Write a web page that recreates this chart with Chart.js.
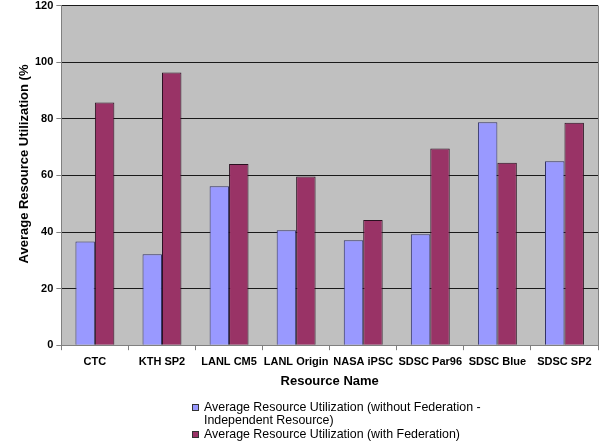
<!DOCTYPE html>
<html>
<head>
<meta charset="utf-8">
<script src="https://cdn.jsdelivr.net/npm/chart.js@4/dist/chart.umd.min.js"></script>
<style>
  html, body { margin: 0; padding: 0; background: #ffffff; overflow: hidden; }
  #wrap { width: 605px; height: 447px; overflow: hidden; }
  #c { display: block; margin-top: -4px; }
</style>
</head>
<body>
<div id="wrap"><canvas id="c" width="605" height="451"></canvas></div>
<script>
// Resource names along the x axis
const categories = ['CTC', 'KTH SP2', 'LANL CM5', 'LANL Origin', 'NASA iPSC', 'SDSC Par96', 'SDSC Blue', 'SDSC SP2'];
// Utilization (%) per resource
const withoutFederation = [36.6, 32.1, 56.2, 40.6, 37.1, 39.2, 78.8, 65.0];
const withFederation = [85.8, 96.4, 64.0, 59.6, 44.2, 69.5, 64.5, 78.6];
// Value axis ticks
const yTicks = [0, 20, 40, 60, 80, 100, 120];

const seriesLabels = [
  'Average Resource Utilization (without Federation - Independent Resource)',
  'Average Resource Utilization (with Federation)'
];
const yTitle = 'Average Resource Utilization (%';

const FONT = "'Liberation Sans', Arial, sans-serif";

// grey plot background and right frame line
const plotBackground = {
  id: 'plotBackground',
  beforeDraw(chart) {
    const { ctx, chartArea: a } = chart;
    ctx.save();
    ctx.fillStyle = '#C0C0C0';
    ctx.fillRect(a.left, a.top, a.right - a.left, a.bottom - a.top);
    ctx.restore();
  },
  afterDatasetsDraw(chart) {
    const { ctx, chartArea: a } = chart;
    ctx.save();
    ctx.strokeStyle = '#808080';
    ctx.lineWidth = 1;
    ctx.beginPath();
    ctx.moveTo(Math.round(a.right) + 0.5, a.top);
    ctx.lineTo(Math.round(a.right) + 0.5, a.bottom);
    ctx.stroke();
    ctx.restore();
  }
};

// vertical value-axis title, set a little above the axis middle
const valueTitle = {
  id: 'valueTitle',
  afterDraw(chart) {
    const { ctx } = chart;
    ctx.save();
    ctx.translate(24, 168);
    ctx.rotate(-Math.PI / 2);
    ctx.font = 'bold 13px ' + FONT;
    ctx.fillStyle = '#000';
    ctx.textAlign = 'center';
    ctx.textBaseline = 'middle';
    ctx.fillText(yTitle, 0, 0);
    ctx.restore();
  }
};

// wrapped legend below the axis title
const wrappedLegend = {
  id: 'wrappedLegend',
  afterDraw(chart) {
    const { ctx } = chart;
    const x0 = 192, textX = 204, maxW = 290, lineH = 13.5;
    let y = 411.5;
    ctx.save();
    ctx.font = '12.4px ' + FONT;
    ctx.textBaseline = 'middle';
    chart.data.datasets.forEach(ds => {
      const words = ds.label.split(' ');
      const lines = [];
      let cur = '';
      words.forEach(w => {
        const t = cur ? cur + ' ' + w : w;
        if (ctx.measureText(t).width > maxW && cur) { lines.push(cur); cur = w; }
        else cur = t;
      });
      if (cur) lines.push(cur);
      ctx.fillStyle = ds.backgroundColor;
      ctx.fillRect(x0, y - 3.5, 7, 7);
      ctx.strokeStyle = '#333';
      ctx.lineWidth = 1;
      ctx.strokeRect(x0 + 0.5, y - 3.5 + 0.5, 6, 6);
      ctx.fillStyle = '#000';
      lines.forEach((ln, i) => ctx.fillText(ln, textX, y + i * lineH));
      y += lines.length * lineH;
    });
    ctx.restore();
  }
};

new Chart(document.getElementById('c'), {
  type: 'bar',
  data: {
    labels: categories,
    datasets: [
      { label: seriesLabels[0], data: withoutFederation, backgroundColor: '#9999FF', borderColor: '#333366', borderWidth: 1 },
      { label: seriesLabels[1], data: withFederation, backgroundColor: '#993366', borderColor: '#2a1020', borderWidth: 1 }
    ]
  },
  options: {
    responsive: false,
    animation: false,
    devicePixelRatio: 1,
    layout: { padding: { left: 32, right: 7, top: 0, bottom: 58 } },
    datasets: { bar: { categoryPercentage: 0.58, barPercentage: 1.0 } },
    plugins: {
      legend: { display: false },
      tooltip: { enabled: false }
    },
    scales: {
      x: {
        grid: { display: true, offset: true, drawOnChartArea: false, drawTicks: true, tickLength: 5, color: '#808080' },
        border: { display: true, color: '#808080' },
        ticks: { color: '#000', font: { family: FONT, size: 11, weight: 'bold' }, padding: 5, maxRotation: 0, autoSkip: false },
        title: { display: true, text: 'Resource Name', color: '#000', font: { family: FONT, size: 13, weight: 'bold' }, padding: { top: 0, bottom: 0 } }
      },
      y: {
        min: 0, max: 120,
        afterBuildTicks(scale) { scale.ticks = yTicks.map(v => ({ value: v })); },
        grid: { color: '#1a1a1a', drawTicks: true, tickLength: 5, tickColor: '#808080' },
        border: { display: true, color: '#808080' },
        ticks: { color: '#000', font: { family: FONT, size: 11, weight: 'bold' }, padding: 3 }
      }
    }
  },
  plugins: [plotBackground, valueTitle, wrappedLegend]
});
</script>
</body>
</html>
